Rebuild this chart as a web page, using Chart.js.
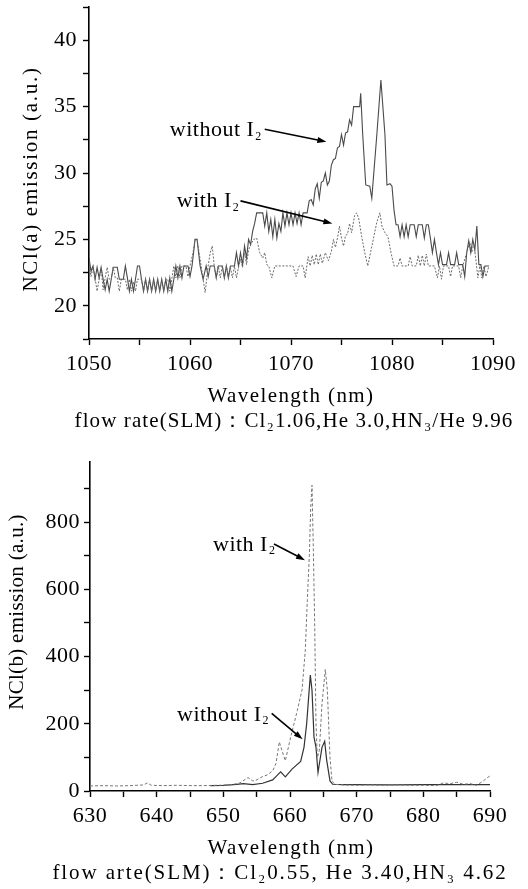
<!DOCTYPE html>
<html><head><meta charset="utf-8">
<script src="https://cdn.jsdelivr.net/npm/chart.js@4.4.0/dist/chart.umd.min.js"></script>
<style>
html,body{margin:0;padding:0;background:#fff;width:528px;height:889px;overflow:hidden}
canvas{position:absolute;left:0}
#c1{top:0}
#c2{top:440px}
</style></head><body>
<canvas id="c1" width="528" height="440"></canvas>
<canvas id="c2" width="528" height="449"></canvas>
<script>
// ---------- DATA (wavelength nm, emission a.u.) ----------
// Top panel: NCl(a) emission
const topWithoutI2 = [
[1050.0,23.6],[1050.2,22.6],[1050.4,23.0],[1050.6,22.0],[1050.8,22.9],[1051.0,22.1],[1051.2,22.9],[1051.4,22.0],
[1051.6,21.2],[1051.8,22.0],[1052.0,21.1],[1052.2,22.0],[1052.4,22.9],[1052.8,22.9],[1053.0,22.0],[1053.4,22.0],
[1053.6,23.0],[1053.8,22.1],[1054.0,21.1],[1054.2,22.0],[1054.4,21.1],[1054.6,22.0],[1054.8,23.0],[1055.0,23.0],
[1055.2,22.0],[1055.4,21.1],[1055.6,22.0],[1055.8,21.1],[1056.0,22.0],[1056.2,21.1],[1056.4,22.0],[1056.6,21.1],
[1056.8,22.0],[1057.0,21.1],[1057.2,22.0],[1057.4,21.1],[1057.6,22.0],[1057.8,21.1],[1058.0,22.1],[1058.2,21.1],
[1058.4,22.0],[1058.6,23.0],[1058.8,22.1],[1059.0,23.0],[1059.2,22.1],[1059.4,23.0],[1059.8,23.0],[1060.0,22.2],
[1060.2,23.0],[1060.5,25.0],[1060.7,25.0],[1061.0,23.0],[1061.3,22.0],[1061.6,23.0],[1061.8,22.2],[1062.0,23.0],
[1062.4,23.0],[1062.6,22.1],[1062.8,23.0],[1063.2,23.0],[1063.4,22.1],[1063.6,23.0],[1063.8,22.1],[1064.0,23.0],
[1064.4,23.0],[1064.6,24.0],[1064.8,23.0],[1065.0,24.0],[1065.2,23.1],[1065.4,24.5],[1065.6,23.6],[1065.8,25.0],
[1066.0,24.6],[1066.2,25.6],[1066.4,26.2],[1066.6,27.0],[1067.2,27.0],[1067.4,26.0],[1067.6,27.0],[1067.8,25.6],
[1068.0,26.5],[1068.2,25.2],[1068.4,26.5],[1068.6,25.1],[1068.8,26.2],[1069.0,25.6],[1069.2,27.0],[1069.4,26.0],
[1069.6,27.0],[1069.8,26.1],[1070.0,27.0],[1070.2,26.1],[1070.4,27.0],[1070.6,26.2],[1070.8,27.0],[1071.0,26.1],
[1071.2,27.0],[1071.6,27.0],[1071.8,27.9],[1072.0,28.0],[1072.2,27.6],[1072.4,28.8],[1072.6,29.2],[1072.8,28.1],
[1073.0,29.3],[1073.2,29.4],[1073.4,30.0],[1073.6,29.1],[1073.8,29.4],[1074.0,30.6],[1074.2,31.0],[1074.4,31.1],
[1074.6,31.9],[1074.8,32.0],[1075.0,32.9],[1075.2,32.1],[1075.4,33.0],[1075.6,33.1],[1075.8,34.0],[1076.0,33.6],
[1076.2,35.0],[1076.8,35.0],[1076.9,36.0],[1077.1,32.9],[1077.4,29.1],[1077.8,29.0],[1078.0,28.1],[1078.5,32.9],
[1078.9,37.0],[1079.3,32.9],[1079.5,29.1],[1079.8,29.2],[1080.0,29.0],[1080.2,27.2],[1080.4,26.1],[1080.6,26.1],
[1080.8,25.2],[1081.0,26.1],[1081.2,25.2],[1081.4,26.1],[1081.6,25.2],[1081.8,26.1],[1082.2,26.1],[1082.4,25.2],
[1082.6,26.1],[1083.0,26.1],[1083.2,25.1],[1083.4,26.1],[1083.6,26.1],[1083.8,25.1],[1084.0,24.0],[1084.2,25.0],
[1084.4,24.0],[1084.6,23.1],[1084.8,24.0],[1085.0,23.1],[1085.4,23.1],[1085.6,24.0],[1085.8,23.1],[1086.2,23.1],
[1086.4,24.0],[1086.6,23.1],[1087.0,23.1],[1087.2,22.2],[1087.4,24.0],[1087.6,24.9],[1087.8,24.0],[1088.0,25.0],
[1088.2,24.2],[1088.4,26.0],[1088.6,23.1],[1088.8,23.1],[1089.0,22.2],[1089.2,23.0],[1089.6,23.0]
];
const topWithI2 = [
[1050.0,23.0],[1050.2,22.2],[1050.4,22.9],[1050.6,22.1],[1050.8,21.1],[1051.0,22.0],[1051.2,22.8],[1051.4,21.2],
[1051.6,22.1],[1051.8,22.9],[1052.0,22.0],[1052.2,22.0],[1052.4,22.9],[1052.6,22.1],[1052.8,22.1],[1053.0,21.1],
[1053.2,22.0],[1053.6,22.0],[1053.8,21.2],[1054.0,22.0],[1054.2,21.1],[1054.4,21.8],[1054.6,21.1],[1054.8,22.0],
[1055.2,22.0],[1055.4,21.1],[1055.6,22.0],[1055.8,21.1],[1056.0,22.0],[1056.2,21.1],[1056.4,21.9],[1056.6,21.1],
[1056.8,22.0],[1057.0,21.1],[1057.2,21.9],[1057.4,21.1],[1057.6,22.0],[1057.8,22.0],[1058.0,21.1],[1058.2,22.0],
[1058.4,23.0],[1058.6,22.1],[1058.8,23.0],[1059.0,22.1],[1059.2,23.0],[1059.6,23.0],[1059.8,22.2],[1060.0,23.0],
[1060.3,24.0],[1060.5,25.0],[1060.7,25.0],[1060.9,24.0],[1061.1,23.0],[1061.5,21.0],[1061.8,23.0],[1062.0,24.0],
[1062.2,24.5],[1062.4,23.0],[1062.6,22.1],[1062.8,23.0],[1063.0,22.1],[1063.2,23.0],[1063.4,22.1],[1063.6,23.0],
[1063.8,22.1],[1064.0,22.9],[1064.2,22.1],[1064.4,23.0],[1064.6,22.1],[1064.8,22.9],[1065.0,23.5],[1065.2,22.9],
[1065.4,24.0],[1065.6,23.1],[1065.8,24.2],[1066.0,24.6],[1066.3,25.0],[1066.6,25.1],[1066.9,24.0],[1067.2,23.6],
[1067.4,24.0],[1067.6,23.1],[1067.8,23.0],[1068.1,22.1],[1068.4,23.0],[1069.0,23.0],[1069.6,23.0],[1070.2,23.0],
[1070.5,22.2],[1070.8,23.0],[1071.2,23.0],[1071.4,22.1],[1071.7,23.7],[1071.9,23.0],[1072.1,23.8],[1072.3,23.1],
[1072.5,23.9],[1072.7,23.1],[1072.9,23.9],[1073.1,23.2],[1073.4,24.0],[1073.7,23.4],[1074.0,24.1],[1074.2,25.0],
[1074.4,24.4],[1074.6,25.1],[1074.8,26.0],[1075.0,25.1],[1075.2,24.5],[1075.4,25.3],[1075.6,25.4],[1075.8,26.2],
[1076.0,25.5],[1076.3,26.8],[1076.5,27.0],[1076.7,26.6],[1077.0,25.2],[1077.3,24.0],[1077.6,23.0],[1077.9,24.1],
[1078.2,25.2],[1078.5,26.3],[1078.8,27.0],[1079.0,26.0],[1079.3,25.5],[1079.6,25.2],[1079.9,24.0],[1080.2,23.0],
[1080.6,23.0],[1080.8,23.6],[1081.0,23.0],[1081.6,23.0],[1081.8,23.7],[1082.0,23.0],[1082.4,23.0],[1082.6,23.8],
[1082.8,23.0],[1083.0,23.8],[1083.2,23.0],[1083.4,23.9],[1083.6,23.0],[1084.2,23.0],[1084.5,22.1],[1084.7,23.0],
[1084.9,22.0],[1085.1,23.0],[1085.6,23.0],[1085.8,22.2],[1086.0,23.0],[1086.6,23.0],[1086.8,22.1],[1087.0,23.0],
[1087.4,24.0],[1087.7,24.8],[1087.9,24.0],[1088.1,24.7],[1088.3,23.5],[1088.5,22.1],[1088.7,23.0],[1088.9,22.1],
[1089.1,23.0],[1089.3,22.2],[1089.6,23.0]
];
// Bottom panel: NCl(b) emission
const botWithI2 = [
[630.0,15],[632.0,16],[634.0,15],[636.0,16],[638.0,18],[638.6,24],[639.2,17],[641.0,16],[643.0,17],[645.0,16],
[647.0,16],[649.0,17],[651.0,18],[652.5,24],[653.7,40],[654.4,30],[654.9,32],[655.8,42],[656.6,48],[657.4,60],
[657.9,82],[658.4,146],[658.8,120],[659.3,90],[660.1,160],[661.1,240],[661.8,300],[662.3,420],[662.6,570],
[662.9,700],[663.1,840],[663.3,910],[663.5,720],[663.7,500],[663.9,200],[664.1,100],[664.4,120],[664.8,260],
[665.3,362],[665.6,300],[666.0,100],[666.3,30],[666.7,20],[668.0,18],[670.0,17],[672.0,18],[674.0,17],[676.0,18],
[678.0,17],[680.0,17],[682.0,16],[683.0,24],[684.0,22],[685.0,26],[686.0,20],[687.0,22],[688.0,17],[689.0,30],
[689.5,38],[690.0,45]
];
const botWithoutI2 = [
[648.0,16],[650.0,17],[652.0,20],[653.0,22],[654.4,19],[655.9,23],[657.4,33],[658.0,45],[658.6,57],[659.3,42],
[660.3,65],[661.6,88],[662.1,130],[662.5,200],[662.8,280],[663.05,345],[663.3,300],[663.6,160],[663.9,130],
[664.2,55],[664.8,130],[665.2,148],[665.5,92],[666.0,30],[666.4,20],[668.0,19],[670.0,19],[675.0,18],[680.0,19],
[685.0,19],[690.0,19]
];
// Tick labels
const topXLabels = [1050,1060,1070,1080,1090];
const topYLabels = [20,25,30,35,40];
const botXLabels = [630,640,650,660,670,680,690];
const botYLabels = [0,200,400,600,800];

// ---------- RENDERING ----------
const FONT = "'Liberation Serif','Times New Roman',serif";
Chart.defaults.font.family = FONT;
Chart.defaults.color = '#000';

const toXY = arr => arr.map(p => ({x:p[0], y:p[1]}));
const labelCb = list => (v) => {
  const hit = list.find(t => Math.abs(t - v) < 1e-6);
  return hit === undefined ? '' : String(hit);
};

const annoPlugin = {
  id:'anno',
  beforeUpdate(chart){ chart.ctx.letterSpacing = '0.5px'; },
  beforeDraw(chart){ chart.ctx.letterSpacing = '0.5px'; },
  afterDatasetsDraw(chart, args, opts){
    const ctx = chart.ctx, xs = chart.scales.x, ys = chart.scales.y;
    ctx.save();
    ctx.letterSpacing = '0.5px';
    (opts.items || []).forEach(a => {
      const tx = xs.getPixelForValue(a.tx), ty = ys.getPixelForValue(a.ty);
      ctx.fillStyle = '#000'; ctx.textBaseline = 'middle'; ctx.textAlign = 'left';
      ctx.font = '22px ' + FONT;
      ctx.fillText(a.text, tx, ty);
      const w = ctx.measureText(a.text).width;
      ctx.font = '12px ' + FONT;
      ctx.fillText(a.sub, tx + w + 1, ty + 6);
      const x1 = xs.getPixelForValue(a.from[0]), y1 = ys.getPixelForValue(a.from[1]);
      const x2 = xs.getPixelForValue(a.to[0]), y2 = ys.getPixelForValue(a.to[1]);
      ctx.strokeStyle = '#000'; ctx.lineWidth = 1.6;
      const ang = Math.atan2(y2 - y1, x2 - x1), L = 9, W = 3;
      ctx.beginPath(); ctx.moveTo(x1, y1); ctx.lineTo(x2 - 5*Math.cos(ang), y2 - 5*Math.sin(ang)); ctx.stroke();
      ctx.beginPath(); ctx.moveTo(x2, y2);
      ctx.lineTo(x2 - L*Math.cos(ang) + W*Math.sin(ang), y2 - L*Math.sin(ang) - W*Math.cos(ang));
      ctx.lineTo(x2 - L*Math.cos(ang) - W*Math.sin(ang), y2 - L*Math.sin(ang) + W*Math.cos(ang));
      ctx.closePath(); ctx.fill();
    });
    ctx.restore();
  },
  afterDraw(chart, args, opts){
    const ctx = chart.ctx, t = opts.titles;
    if (!t) return;
    ctx.save();
    ctx.fillStyle = '#000'; ctx.textAlign = 'center'; ctx.textBaseline = 'middle';
    ctx.font = '21px ' + FONT;
    t.x.forEach(l => { ctx.letterSpacing = l.ls; ctx.fillText(l.text, l.cx, l.cy); });
    ctx.letterSpacing = t.y.ls;
    ctx.translate(t.y.cx, t.y.cy); ctx.rotate(-Math.PI/2);
    ctx.fillText(t.y.text, 0, 0);
    ctx.restore();
  }
};

function makeChart(id, c){
  return new Chart(document.getElementById(id), {
    type:'line',
    data:{datasets:c.datasets},
    options:{
      responsive:false, animation:false, devicePixelRatio:1,
      layout:{padding:c.pad},
      plugins:{legend:{display:false}, tooltip:{enabled:false}, anno:{items:c.anno, titles:c.titles}},
      elements:{point:{radius:0}, line:{tension:0}},
      scales:{
        x:{
          type:'linear', min:c.xmin, max:c.xmax,
          border:{display:true, color:'#000', width:1.6},
          grid:{drawOnChartArea:false, drawTicks:true, tickLength:6, tickColor:'#000', tickWidth:1.4},
          ticks:{stepSize:c.xstep, autoSkip:false, maxRotation:0, padding:6.5, maxTicksLimit:100,
                 font:{size:22}, callback:labelCb(c.xlabels)},
          title:{display:false},
          afterFit:(s)=>{ s.height = c.xh; s.paddingLeft = 0; s.paddingRight = 0; }
        },
        y:{
          type:'linear', min:c.ymin, max:c.ymax,
          border:{display:true, color:'#000', width:1.6},
          grid:{drawOnChartArea:false, drawTicks:true, tickLength:6, tickColor:'#000', tickWidth:1.4},
          ticks:{stepSize:c.ystep, autoSkip:false, padding:c.ypadTick, maxTicksLimit:100, includeBounds:c.yBounds,
                 font:{size:22}, callback:labelCb(c.ylabels)},
          title:{display:false},
          afterFit:(s)=>{ s.width = c.yw; s.paddingTop = 0; s.paddingBottom = 0; }
        }
      }
    },
    plugins:[annoPlugin]
  });
}

makeChart('c1', {
  datasets:[
    {data:toXY(topWithI2), borderColor:'#6a6a6a', borderWidth:1, borderDash:[2,1.5]},
    {data:toXY(topWithoutI2), borderColor:'#4a4a4a', borderWidth:1.1}
  ],
  pad:{left:0, right:35, top:7, bottom:6.5},
  xmin:1050, xmax:1090, xstep:5, xlabels:topXLabels, xh:94.5,
  ymin:17.5, ymax:42.5, ystep:2.5, ylabels:topYLabels, yw:89, ypadTick:6, yBounds:true,
  titles:{
    x:[{text:'Wavelength (nm)', cx:291, cy:396, ls:'1.4px'},
       {text:'flow rate(SLM)：Cl₂1.06,He 3.0,HN₃/He 9.96', cx:294, cy:421, ls:'1.1px'}],
    y:{text:'NCl(a) emission (a.u.)', cx:31, cy:179, ls:'1.7px'}
  },
  anno:[
    {text:'without I', sub:'2', tx:1058.0, ty:33.2, from:[1067.4,33.3], to:[1073.5,32.35]},
    {text:'with I', sub:'2', tx:1058.7, ty:27.85, from:[1065.0,27.9], to:[1074.1,26.2]}
  ]
});

makeChart('c2', {
  datasets:[
    {data:toXY(botWithI2), borderColor:'#777', borderWidth:1, borderDash:[3,2]},
    {data:toXY(botWithoutI2), borderColor:'#333', borderWidth:1.2}
  ],
  pad:{left:0, right:38, top:22, bottom:3.5},
  xmin:630, xmax:690, xstep:5, xlabels:botXLabels, xh:94.5,
  ymin:0, ymax:979, ystep:100, ylabels:botYLabels, yw:90, ypadTick:4, yBounds:false,
  titles:{
    x:[{text:'Wavelength (nm)', cx:291, cy:408, ls:'1.4px'},
       {text:'flow arte(SLM)：Cl₂0.55, He 3.40,HN₃ 4.62', cx:280, cy:433, ls:'1.9px'}],
    y:{text:'NCl(b) emission (a.u.)', cx:17, cy:172, ls:'0.3px'}
  },
  anno:[
    {text:'with I', sub:'2', tx:648.45, ty:732, from:[657.6,735], to:[662.25,687]},
    {text:'without I', sub:'2', tx:643.05, ty:226, from:[657.25,231], to:[661.9,154]}
  ]
});
</script>
</body></html>
